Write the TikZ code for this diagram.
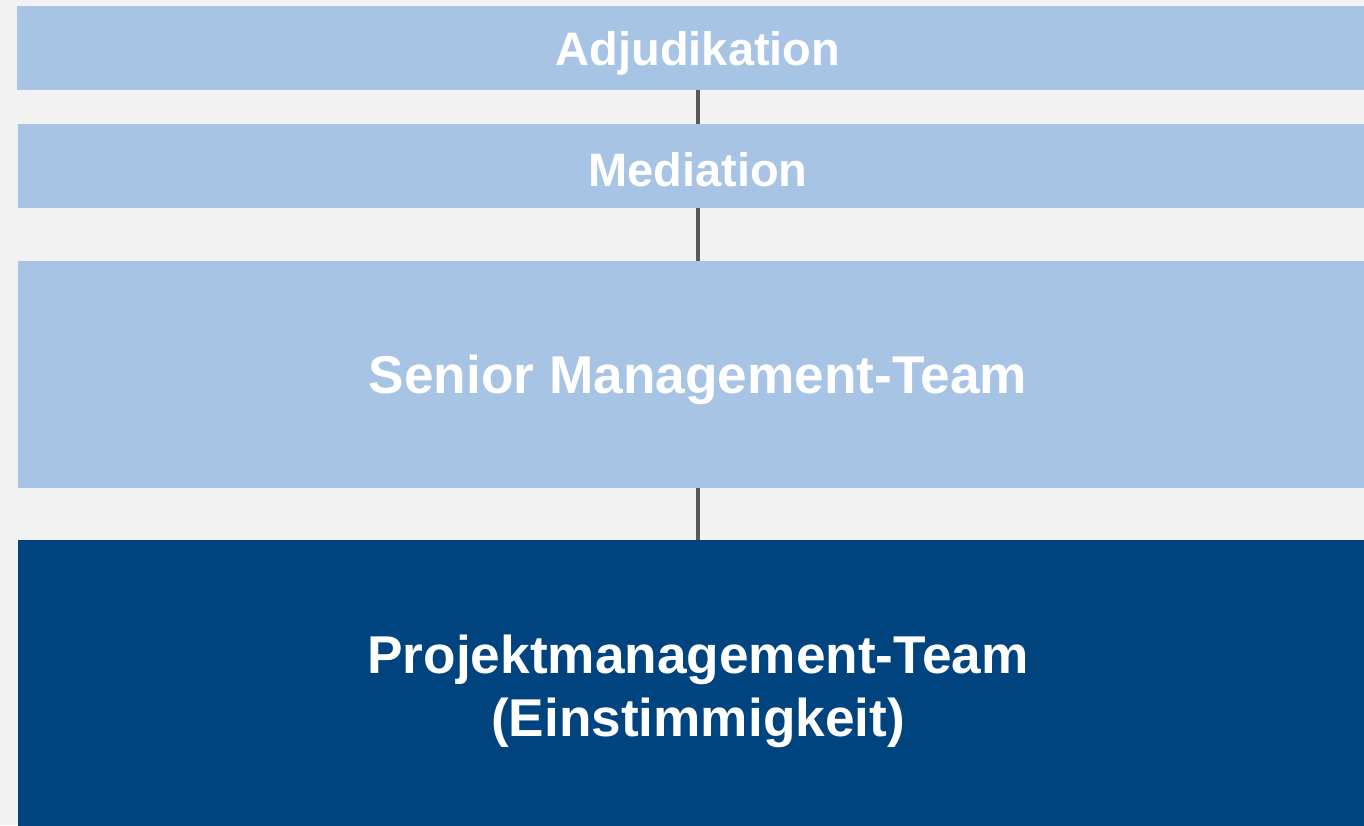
\documentclass[tikz,border=0pt]{standalone}
\usepackage{fontspec}
\setmainfont{Liberation Sans}
\definecolor{bg}{HTML}{F2F2F2}
\definecolor{lightblue}{HTML}{A7C4E4}
\definecolor{darkblue}{HTML}{00447F}
\definecolor{linegray}{HTML}{595959}
\begin{document}
\begin{tikzpicture}[x=1pt,y=-1pt,
  boxL/.style={fill=lightblue,draw=none,inner sep=0pt,outer sep=0pt,minimum width=1360pt,anchor=north west},
  boxD/.style={fill=darkblue,draw=none,inner sep=0pt,outer sep=0pt,minimum width=1360pt,anchor=north west},
  lbl/.style={text=white,font=\bfseries,align=center},
  conn/.style={draw=linegray,line width=4.5pt}]
\fill[bg] (0,0) rectangle (1364,825);
\useasboundingbox (0,0) rectangle (1364,825);
\node[boxL,minimum height=84pt] (b1) at (17,6) {};
\node[boxL,minimum height=84pt] (b2) at (18,124) {};
\node[boxL,minimum height=227pt] (b3) at (18,261) {};
\node[boxD,minimum height=300pt] (b4) at (18,540) {};
\coordinate (c1a) at (698,90);
\coordinate (c1b) at (698,124);
\coordinate (c2a) at (698,208);
\coordinate (c2b) at (698,261);
\coordinate (c3a) at (698,488);
\coordinate (c3b) at (698,540);
\draw[conn] (c1a) -- (c1b);
\draw[conn] (c2a) -- (c2b);
\draw[conn] (c3a) -- (c3b);
\node[lbl,font=\fontsize{47}{56}\bfseries] (t1) at (698,53) {Adjudikation};
\node[lbl,font=\fontsize{47}{56}\bfseries] (t2) at (698,170) {Mediation};
\node[lbl,font=\fontsize{53.2}{63}\bfseries] (t3) at (698,380) {Senior Management-Team};
\node[lbl,font=\fontsize{53.2}{63}\bfseries] (t4) at (698,691) {Projektmanagement-Team\\(Einstimmigkeit)};
\end{tikzpicture}
\end{document}
